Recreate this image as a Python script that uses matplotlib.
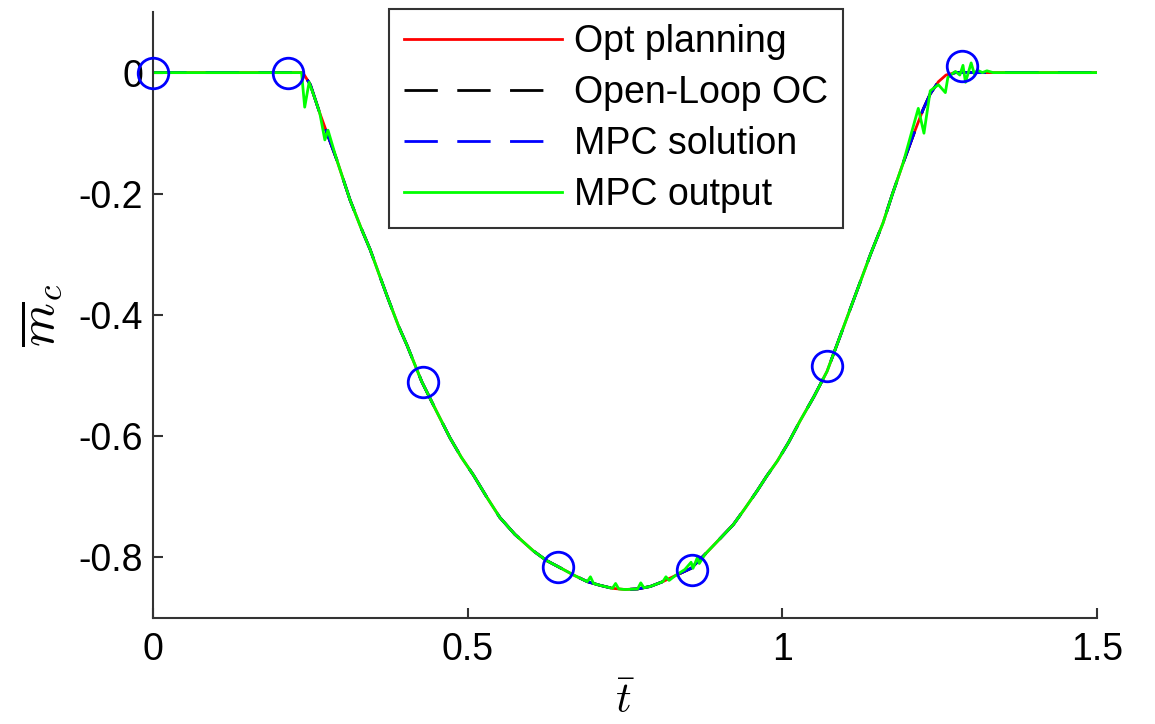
import numpy as np
import matplotlib
matplotlib.use('Agg')
import matplotlib.pyplot as plt

# --------------------------------------------------------------------------- #
# Values.
# Reference trajectory (opt planning / open-loop OC / MPC solution coincide).
t_ref = [0.0, 0.238, 0.25, 0.265, 0.28, 0.292, 0.313, 0.33, 0.345, 0.36,
         0.372, 0.39, 0.404, 0.427, 0.45, 0.472, 0.49, 0.509, 0.53, 0.551,
         0.575, 0.604, 0.625, 0.645, 0.67, 0.69, 0.71, 0.73, 0.75, 0.77,
         0.79, 0.81, 0.83, 0.855, 0.877, 0.90, 0.922, 0.94, 0.96, 0.975,
         0.992, 1.01, 1.028, 1.05, 1.071, 1.09, 1.115, 1.14, 1.16, 1.175,
         1.192, 1.211, 1.224, 1.235, 1.248, 1.26, 1.275, 1.5]
m_ref = [0.0, 0.0, -0.02, -0.067, -0.11, -0.144, -0.21, -0.255, -0.292, -0.335,
         -0.369, -0.418, -0.451, -0.51, -0.558, -0.603, -0.635, -0.664, -0.70, -0.734,
         -0.762, -0.789, -0.805, -0.816, -0.83, -0.84, -0.846, -0.851, -0.853, -0.852,
         -0.848, -0.84, -0.83, -0.818, -0.795, -0.77, -0.746, -0.72, -0.69, -0.666,
         -0.641, -0.61, -0.575, -0.535, -0.493, -0.44, -0.37, -0.30, -0.248, -0.20,
         -0.149, -0.095, -0.06, -0.035, -0.015, -0.004, 0.0, 0.0]

# MPC output (noisy closed-loop response).
t_out = [0.0, 0.236, 0.241, 0.248, 0.258, 0.265, 0.273, 0.278, 0.292, 0.313,
         0.33, 0.345, 0.36, 0.372, 0.39, 0.404, 0.427, 0.45, 0.472, 0.49,
         0.509, 0.53, 0.551, 0.575, 0.604, 0.625, 0.645, 0.67, 0.69, 0.695,
         0.70, 0.71, 0.73, 0.735, 0.74, 0.75, 0.77, 0.775, 0.78, 0.79,
         0.81, 0.815, 0.82, 0.83, 0.845, 0.855, 0.858, 0.865, 0.868, 0.877,
         0.90, 0.922, 0.94, 0.96, 0.975, 0.992, 1.01, 1.028, 1.05, 1.071,
         1.09, 1.115, 1.14, 1.16, 1.175, 1.192, 1.205, 1.216, 1.225, 1.235,
         1.248, 1.259, 1.263, 1.27, 1.275, 1.282, 1.287, 1.291, 1.30, 1.305,
         1.31, 1.318, 1.325, 1.335, 1.5]
m_out = [0.0, 0.0, -0.057, -0.016, -0.045, -0.067, -0.111, -0.095, -0.144, -0.21,
         -0.255, -0.292, -0.335, -0.369, -0.418, -0.451, -0.51, -0.558, -0.603, -0.635,
         -0.664, -0.70, -0.734, -0.762, -0.789, -0.805, -0.816, -0.83, -0.84, -0.832,
         -0.843, -0.846, -0.851, -0.843, -0.852, -0.853, -0.852, -0.842, -0.85, -0.848,
         -0.84, -0.832, -0.838, -0.83, -0.82, -0.808, -0.818, -0.80, -0.81, -0.795,
         -0.77, -0.746, -0.72, -0.69, -0.666, -0.641, -0.61, -0.575, -0.535, -0.493,
         -0.44, -0.37, -0.30, -0.248, -0.20, -0.149, -0.10, -0.059, -0.10, -0.03,
         -0.02, -0.033, -0.008, -0.002, 0.002, -0.004, 0.012, -0.016, 0.016, -0.002,
         0.004, 0.0, 0.003, 0.0, 0.0]

# MPC sampling instants (circles).
t_samp = [0.0, 0.2143, 0.4286, 0.6429, 0.8571, 1.0714, 1.2857]
m_samp = [0.0, 0.0, -0.51, -0.816, -0.82, -0.484, 0.011]

xticks = [0, 0.5, 1, 1.5]
xticklabels = ['0', '0.5', '1', '1.5']
yticks = [0, -0.2, -0.4, -0.6, -0.8]
yticklabels = ['0', '-0.2', '-0.4', '-0.6', '-0.8']

# --------------------------------------------------------------------------- #
plt.rcParams['font.family'] = ['Liberation Sans', 'DejaVu Sans']
plt.rcParams['mathtext.fontset'] = 'cm'
plt.rcParams['axes.unicode_minus'] = False

fig = plt.figure(figsize=(11.55, 7.24), dpi=100)
ax = fig.add_axes([0.1325, 0.1464, 0.8173, 0.837])

lw = 2.0
ax.plot(t_ref, m_ref, color='#ff0000', lw=lw, label='Opt planning')
ax.plot(t_ref, m_ref, color='black', lw=lw, ls=(0, (12, 7)), label='Open-Loop OC')
ax.plot(t_ref, m_ref, color='#0000ff', lw=lw, ls=(0, (12, 7)), label='MPC solution')
ax.plot(t_out, m_out, color='#00ff00', lw=lw, label='MPC output')
ax.plot(t_samp, m_samp, 'o', ms=22, mfc='none', mec='#0000ff', mew=2.0,
        clip_on=False, zorder=5)

ax.set_xlim(0, 1.5)
ax.set_ylim(-0.9, 0.1)
ax.set_xticks(xticks)
ax.set_xticklabels(xticklabels)
ax.set_yticks(yticks)
ax.set_yticklabels(yticklabels)

for s in ['top', 'right']:
    ax.spines[s].set_visible(False)
for s in ['left', 'bottom']:
    ax.spines[s].set_color('#333333')
    ax.spines[s].set_linewidth(1.5)

ax.tick_params(axis='both', direction='in', length=7, width=1.5,
               color='#333333', labelsize=27, labelcolor='black')
ax.tick_params(axis='x', pad=10)
ax.tick_params(axis='y', pad=7)

ax.set_xlabel(r'$\bar{t}$', fontsize=31, labelpad=10)
ax.set_ylabel(r'$\overline{m}_c$', fontsize=36, labelpad=10)

leg = ax.legend(loc='upper left', bbox_to_anchor=(0.3368, 0.9876),
                bbox_transform=fig.transFigure, borderaxespad=0,
                fontsize=27, handlelength=4.2, handletextpad=0.32,
                labelspacing=0.4, borderpad=0.4, fancybox=False,
                framealpha=1, edgecolor='#333333')
leg.get_frame().set_linewidth(1.5)

fig.savefig('out.png', dpi=100)
